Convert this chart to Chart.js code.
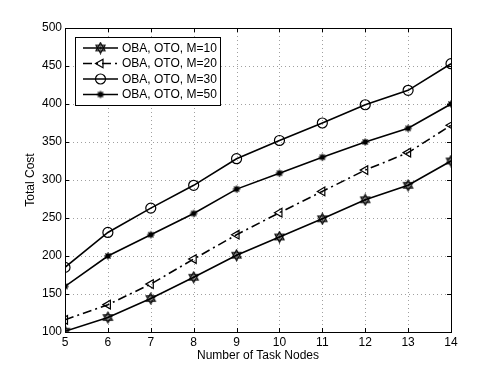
<!DOCTYPE html>
<html>
<head>
<meta charset="utf-8">
<script src="https://cdn.jsdelivr.net/npm/chart.js@4"></script>
<style>
  html, body { margin: 0; padding: 0; background: #fff; }
  #chart { display: block; }
</style>
</head>
<body>
<canvas id="chart" width="498" height="375"></canvas>
<script>
// Data
const taskNodes = [5, 6, 7, 8, 9, 10, 11, 12, 13, 14];
const costM10 = [101, 119, 144, 172, 201, 225, 249, 274, 293, 325];
const costM20 = [116, 136, 163, 196, 228, 257, 285, 313, 336, 372];
const costM30 = [185, 231, 263, 293, 328, 352, 375, 399, 418, 453];
const costM50 = [160, 200, 228, 256, 288, 309, 330, 350, 368, 400];
const seriesLabels = ['OBA, OTO, M=10', 'OBA, OTO, M=20', 'OBA, OTO, M=30', 'OBA, OTO, M=50'];
const yTicks = [100, 150, 200, 250, 300, 350, 400, 450, 500];

const FONT = 'Liberation Sans, Arial, sans-serif';

// marker images (MATLAB-ish hexagram and asterisk)
function makeHexagram() {
    const c = document.createElement('canvas');
    c.width = 13; c.height = 13;
    const g = c.getContext('2d');
    g.strokeStyle = '#000';
    g.fillStyle = '#000';
    g.lineWidth = 1.2;
    const r = 5.2, cx = 6.5, cy = 6.5;
    [-Math.PI / 2, Math.PI / 2].forEach(a0 => {
        g.beginPath();
        for (let i = 0; i < 3; i++) {
            const a = a0 + i * 2 * Math.PI / 3;
            const x = cx + r * Math.cos(a), y = cy + r * Math.sin(a);
            if (i === 0) g.moveTo(x, y); else g.lineTo(x, y);
        }
        g.closePath();
        g.stroke();
    });
    g.beginPath();
    g.arc(cx, cy, 1.3, 0, Math.PI * 2);
    g.fill();
    return c;
}

function makeAsterisk() {
    const c = document.createElement('canvas');
    c.width = 10; c.height = 10;
    const g = c.getContext('2d');
    g.strokeStyle = '#000';
    g.fillStyle = '#000';
    g.lineWidth = 1.4;
    const r = 3.6, cx = 5, cy = 5;
    for (let i = 0; i < 4; i++) {
        const a = i * Math.PI / 4;
        g.beginPath();
        g.moveTo(cx - r * Math.cos(a), cy - r * Math.sin(a));
        g.lineTo(cx + r * Math.cos(a), cy + r * Math.sin(a));
        g.stroke();
    }
    g.beginPath();
    g.arc(cx, cy, 2.2, 0, Math.PI * 2);
    g.fill();
    return c;
}

const hexagram = makeHexagram();
const asterisk = makeAsterisk();

function toPoints(ys) {
    return taskNodes.map((x, i) => ({ x: x, y: ys[i] }));
}

const datasets = [
    { label: seriesLabels[0], data: toPoints(costM10), pointStyle: hexagram, borderDash: [] },
    { label: seriesLabels[1], data: toPoints(costM20), pointStyle: 'triangle', rotation: -90, pointRadius: 5, borderDash: [9, 4, 2, 4] },
    { label: seriesLabels[2], data: toPoints(costM30), pointStyle: 'circle', pointRadius: 5, borderDash: [] },
    { label: seriesLabels[3], data: toPoints(costM50), pointStyle: asterisk, borderDash: [] }
].map(d => Object.assign({
    borderColor: '#000',
    backgroundColor: 'rgba(0,0,0,0)',
    pointBorderColor: '#000',
    pointBackgroundColor: 'rgba(0,0,0,0)',
    pointBorderWidth: 1.2,
    borderWidth: 1.6,
    pointRadius: 5,
    tension: 0,
    fill: false
}, d));

// dotted grid under the lines
const dottedGrid = {
    id: 'dottedGrid',
    beforeDatasetsDraw(chart) {
        const ctx = chart.ctx;
        const a = chart.chartArea;
        const xs = chart.scales.x, ys = chart.scales.y;
        ctx.save();
        ctx.strokeStyle = '#a0a0a0';
        ctx.lineWidth = 1;
        ctx.setLineDash([1, 3]);
        ctx.beginPath();
        taskNodes.forEach(v => {
            const px = Math.round(xs.getPixelForValue(v)) + 0.5;
            ctx.moveTo(px, a.top); ctx.lineTo(px, a.bottom);
        });
        yTicks.forEach(v => {
            const py = Math.round(ys.getPixelForValue(v)) + 0.5;
            ctx.moveTo(a.left, py); ctx.lineTo(a.right, py);
        });
        ctx.stroke();
        ctx.restore();
    }
};

// box, inward ticks and the in-plot legend
const matlabFrame = {
    id: 'matlabFrame',
    afterDraw(chart) {
        const ctx = chart.ctx;
        const a = chart.chartArea;
        const xs = chart.scales.x, ys = chart.scales.y;
        ctx.save();
        ctx.strokeStyle = '#000';
        ctx.lineWidth = 1;
        ctx.setLineDash([]);
        ctx.strokeRect(Math.round(a.left) + 0.5, Math.round(a.top) + 0.5,
            Math.round(a.right - a.left), Math.round(a.bottom - a.top));
        ctx.beginPath();
        const tl = 4;
        taskNodes.forEach(v => {
            const px = Math.round(xs.getPixelForValue(v)) + 0.5;
            ctx.moveTo(px, a.bottom); ctx.lineTo(px, a.bottom - tl);
            ctx.moveTo(px, a.top); ctx.lineTo(px, a.top + tl);
        });
        yTicks.forEach(v => {
            const py = Math.round(ys.getPixelForValue(v)) + 0.5;
            ctx.moveTo(a.left, py); ctx.lineTo(a.left + tl, py);
            ctx.moveTo(a.right, py); ctx.lineTo(a.right - tl, py);
        });
        ctx.stroke();

        // legend
        const bx = 75.5, by = 37.5, bw = 145, bh = 68;
        ctx.fillStyle = '#fff';
        ctx.fillRect(bx, by, bw, bh);
        ctx.strokeRect(bx, by, bw, bh);
        ctx.font = '12px ' + FONT;
        ctx.textBaseline = 'middle';
        ctx.textAlign = 'left';
        chart.data.datasets.forEach((ds, i) => {
            const y = 48 + i * 15.5;
            ctx.save();
            ctx.strokeStyle = '#000';
            ctx.lineWidth = ds.borderWidth;
            ctx.setLineDash(ds.borderDash);
            ctx.beginPath();
            ctx.moveTo(83, y);
            ctx.lineTo(118, y);
            ctx.stroke();
            ctx.setLineDash([]);
            ctx.fillStyle = 'rgba(0,0,0,0)';
            ctx.strokeStyle = '#000';
            ctx.lineWidth = ds.pointBorderWidth;
            Chart.helpers.drawPoint(ctx, {
                pointStyle: ds.pointStyle,
                rotation: ds.rotation || 0,
                radius: ds.pointRadius,
                borderWidth: ds.pointBorderWidth
            }, 100.5, y);
            ctx.restore();
            ctx.fillStyle = '#000';
            ctx.fillText(ds.label, 122, y + 0.5);
        });
        ctx.restore();
    }
};

const ctx = document.getElementById('chart').getContext('2d');
new Chart(ctx, {
    type: 'line',
    data: { datasets: datasets },
    options: {
        responsive: false,
        animation: false,
        devicePixelRatio: 1,
        layout: { padding: { left: 0, right: 47, top: 28, bottom: 0 } },
        plugins: {
            legend: { display: false },
            tooltip: { enabled: false }
        },
        scales: {
            x: {
                type: 'linear',
                min: 5,
                max: 14,
                afterBuildTicks(scale) { scale.ticks = taskNodes.map(v => ({ value: v })); },
                afterFit(scale) { scale.height = 43; },
                border: { display: false },
                grid: { display: false, drawTicks: false, tickLength: 0 },
                ticks: {
                    color: '#000',
                    font: { family: FONT, size: 12 },
                    padding: 3,
                    maxRotation: 0
                },
                title: {
                    display: true,
                    text: 'Number of Task Nodes',
                    color: '#000',
                    font: { family: FONT, size: 12 },
                    padding: { top: 0, bottom: 12 }
                }
            },
            y: {
                type: 'linear',
                min: 100,
                max: 500,
                afterBuildTicks(scale) { scale.ticks = yTicks.map(v => ({ value: v })); },
                afterFit(scale) { scale.width = 65; },
                border: { display: false },
                grid: { display: false, drawTicks: false, tickLength: 0 },
                ticks: {
                    color: '#000',
                    font: { family: FONT, size: 12 },
                    padding: 3
                },
                title: {
                    display: true,
                    text: 'Total Cost',
                    color: '#000',
                    font: { family: FONT, size: 12 },
                    padding: { top: 23, bottom: 0 }
                }
            }
        }
    },
    plugins: [dottedGrid, matlabFrame]
});
</script>
</body>
</html>
